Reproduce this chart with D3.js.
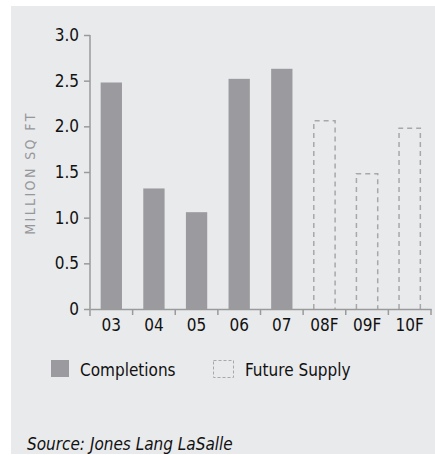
<!DOCTYPE html>
<html>
<head>
<meta charset="utf-8">
<script src="https://cdn.jsdelivr.net/npm/d3@7"></script>
<style>
  body { margin: 0; background: #fff; overflow: hidden; }
  svg { display: block; }
  text { font-family: "DejaVu Sans Condensed", "DejaVu Sans", sans-serif; font-stretch: condensed; }
</style>
</head>
<body>
<div id="chart"></div>
<script>
var categories = ['03', '04', '05', '06', '07', '08F', '09F', '10F'];
var completions = [2.48, 1.32, 1.06, 2.52, 2.63, null, null, null];
var futureSupply = [null, null, null, null, null, 2.06, 1.48, 1.98];
var yTicks = [0, 0.5, 1.0, 1.5, 2.0, 2.5, 3.0];

var w = 435, h = 455;
var mLeft = 90, mRight = 431, mTop = 35, mBottom = 309;
var barFill = '#9b9b9f';
var axisColor = '#9a9a9a';

var svg = d3.select('#chart').append('svg').attr('width', w).attr('height', h);

svg.append('rect').attr('x', 11).attr('y', 6).attr('width', w - 11).attr('height', h - 7)
    .attr('fill', '#e9eaec');

var x = d3.scaleBand().domain(categories).range([mLeft, mRight]).paddingInner(0.5).paddingOuter(0.25);
var y = d3.scaleLinear().domain([0, 3]).range([mBottom, mTop]);

// solid bars
svg.selectAll('.bar').data(categories.filter(function (d, i) { return completions[i] != null; }))
    .enter().append('rect')
    .attr('x', function (d) { return x(d); })
    .attr('y', function (d) { return y(completions[categories.indexOf(d)]); })
    .attr('width', x.bandwidth())
    .attr('height', function (d) { return y(0) - y(completions[categories.indexOf(d)]); })
    .attr('fill', barFill);

// dashed bars (no bottom edge)
svg.selectAll('.fbar').data(categories.filter(function (d, i) { return futureSupply[i] != null; }))
    .enter().append('path')
    .attr('d', function (d) {
        var x0 = x(d), x1 = x(d) + x.bandwidth();
        var yt = y(futureSupply[categories.indexOf(d)]);
        return 'M' + x0 + ',' + y(0) + 'V' + yt + 'H' + x1 + 'V' + y(0);
    })
    .attr('fill', 'none').attr('stroke', '#a8a8ab').attr('stroke-width', 1.5)
    .attr('stroke-dasharray', '5,4');

// y axis
var yAxis = svg.append('g').attr('transform', 'translate(' + mLeft + ',0)')
    .call(d3.axisLeft(y).tickValues(yTicks).tickSize(6).tickSizeOuter(0)
        .tickFormat(function (d) { return d === 0 ? '0' : d3.format('.1f')(d); }));
yAxis.attr('font-family', null);
yAxis.select('.domain').attr('stroke', axisColor).attr('stroke-width', 1.5)
    .attr('d', 'M0,' + mTop + 'V' + (mBottom + 7));
yAxis.selectAll('line').attr('stroke', axisColor).attr('stroke-width', 1.5);
yAxis.selectAll('text').attr('x', -11).attr('font-size', 17).attr('fill', '#111');

// x axis
var xAxis = svg.append('g').attr('transform', 'translate(0,' + mBottom + ')')
    .call(d3.axisBottom(x).tickSize(0).tickSizeOuter(0));
xAxis.attr('font-family', null);
xAxis.select('.domain').attr('stroke', axisColor).attr('stroke-width', 1.5);
xAxis.selectAll('text').attr('y', 10).attr('font-size', 17).attr('fill', '#111');

var gap = (x.step() - x.bandwidth()) / 2;
xAxis.selectAll('.sep').data(categories.slice(1).concat(['end']))
    .enter().append('line')
    .attr('x1', function (d, i) { return i < categories.length - 1 ? x(d) - gap : mRight; })
    .attr('x2', function (d, i) { return i < categories.length - 1 ? x(d) - gap : mRight; })
    .attr('y1', 0).attr('y2', 6)
    .attr('stroke', axisColor).attr('stroke-width', 1.5);

// y label
svg.append('text')
    .attr('transform', 'translate(35,' + ((mTop + mBottom) / 2 + 1) + ') rotate(-90)')
    .attr('text-anchor', 'middle')
    .attr('font-size', 14).attr('letter-spacing', 2.4).attr('fill', '#97979b')
    .text('MILLION SQ FT');

// legend
svg.append('rect').attr('x', 51).attr('y', 360).attr('width', 18).attr('height', 17).attr('fill', barFill);
svg.append('text').attr('x', 80).attr('y', 376).attr('font-size', 17).attr('fill', '#111').text('Completions');
svg.append('rect').attr('x', 213.5).attr('y', 360.5).attr('width', 20).attr('height', 17)
    .attr('fill', 'none').attr('stroke', '#a8a8ab').attr('stroke-width', 1).attr('stroke-dasharray', '3,2');
svg.append('text').attr('x', 245).attr('y', 376).attr('font-size', 17).attr('fill', '#111').text('Future Supply');

// source
svg.append('text').attr('x', 27).attr('y', 450).attr('font-size', 17).attr('font-style', 'italic')
    .attr('fill', '#111').text('Source: Jones Lang LaSalle');
</script>
</body>
</html>
